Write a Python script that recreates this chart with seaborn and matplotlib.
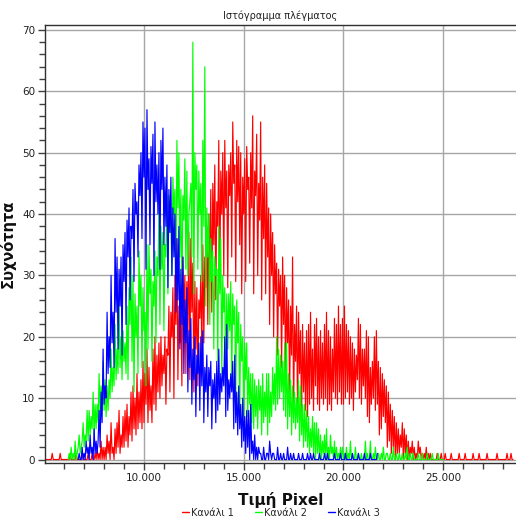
import numpy as np
import pandas as pd
import matplotlib
matplotlib.use("Agg")
import matplotlib.pyplot as plt
from matplotlib.ticker import MultipleLocator, FuncFormatter
import seaborn as sns

# ---------------- data ----------------
bin_step = 50
channel_names = ["Κανάλι 1", "Κανάλι 2", "Κανάλι 3"]
channel_colors = ["#ff0000", "#00ff00", "#0000ff"]

red_start = 5000
red_counts = [
    0, 0, 0, 0, 0, 0, 0, 0, 1, 0, 0, 0, 0, 0, 0, 0, 1, 0, 0, 0,
    0, 0, 0, 0, 0, 0, 1, 0, 0, 0, 0, 0, 1, 0, 0, 0, 0, 0, 1, 0,
    0, 0, 0, 0, 1, 0, 0, 0, 1, 0, 0, 1, 0, 2, 0, 1, 0, 3, 0, 2,
    0, 2, 0, 4, 1, 3, 0, 6, 1, 2, 0, 5, 1, 6, 2, 8, 1, 4, 2, 7,
    2, 8, 3, 9, 2, 7, 4, 11, 3, 12, 5, 10, 4, 14, 5, 11, 6, 13, 5, 16,
    6, 14, 9, 18, 6, 15, 8, 12, 6, 18, 9, 20, 8, 17, 11, 19, 10, 20, 12, 17,
    14, 20, 9, 18, 17, 25, 11, 24, 20, 28, 10, 30, 22, 36, 13, 25, 19, 24, 12, 33,
    24, 30, 14, 29, 21, 37, 13, 36, 24, 32, 11, 29, 18, 28, 12, 26, 23, 30, 17, 35,
    19, 33, 28, 38, 22, 40, 31, 44, 24, 45, 35, 48, 26, 42, 38, 52, 29, 47, 40, 50,
    30, 52, 41, 47, 28, 48, 43, 50, 33, 55, 45, 48, 29, 52, 42, 51, 35, 50, 27, 46,
    40, 49, 29, 51, 44, 46, 32, 50, 41, 56, 27, 47, 43, 53, 30, 45, 39, 55, 26, 46,
    36, 48, 27, 45, 33, 41, 22, 40, 30, 37, 20, 35, 27, 32, 17, 31, 25, 30, 15, 33,
    22, 30, 13, 28, 19, 26, 10, 25, 17, 33, 8, 22, 16, 25, 7, 24, 14, 21, 6, 22,
    11, 19, 8, 21, 7, 22, 9, 24, 10, 18, 8, 22, 12, 23, 9, 20, 8, 21, 10, 19,
    9, 22, 10, 24, 8, 21, 9, 20, 8, 18, 11, 23, 10, 22, 9, 25, 11, 22, 9, 23,
    9, 25, 10, 22, 11, 21, 9, 20, 10, 19, 8, 18, 11, 17, 13, 23, 10, 22, 9, 18,
    12, 18, 10, 21, 7, 20, 6, 15, 9, 16, 10, 20, 8, 21, 9, 16, 4, 15, 5, 14,
    7, 13, 6, 12, 2, 11, 3, 9, 1, 8, 2, 7, 0, 6, 1, 5, 1, 4, 2, 6,
    0, 5, 1, 4, 0, 3, 0, 2, 1, 3, 0, 2, 0, 1, 0, 3, 1, 2, 0, 1,
    0, 1, 0, 2, 0, 1, 0, 1, 0, 0, 0, 0, 0, 0, 1, 0, 0, 0, 1, 0,
    0, 0, 1, 0, 0, 0, 0, 0, 1, 0, 0, 0, 0, 0, 0, 0, 1, 0, 0, 0,
    0, 0, 1, 0, 0, 0, 0, 0, 0, 0, 1, 0, 0, 0, 0, 0, 1, 0, 0, 0,
    0, 0, 0, 0, 1, 0, 0, 0, 0, 0, 0, 0, 0, 0, 1, 0, 0, 0, 0, 0,
    0, 0, 0, 0, 1, 0, 0, 0, 1, 0, 0,
]

green_start = 6200
green_counts = [
    0, 1, 0, 2, 0, 1, 0, 3, 0, 1, 2, 4, 1, 2, 3, 6, 2, 4, 3, 8,
    3, 8, 4, 7, 5, 11, 4, 9, 5, 9, 6, 14, 7, 12, 9, 16, 8, 13, 7, 12,
    8, 13, 10, 18, 11, 15, 12, 22, 13, 18, 14, 26, 15, 20, 13, 21, 16, 19, 14, 25,
    13, 28, 22, 33, 16, 30, 11, 27, 20, 25, 14, 34, 25, 30, 15, 28, 21, 24, 12, 35,
    18, 35, 27, 31, 16, 29, 25, 34, 19, 33, 30, 41, 22, 38, 31, 37, 21, 35, 33, 43,
    27, 43, 37, 39, 30, 46, 40, 44, 28, 52, 41, 50, 33, 44, 26, 43, 39, 49, 31, 47,
    30, 40, 42, 45, 33, 68, 27, 50, 44, 48, 31, 47, 40, 45, 29, 52, 38, 64, 25, 41,
    33, 40, 22, 36, 29, 34, 18, 33, 30, 31, 16, 38, 27, 36, 14, 30, 24, 28, 13, 27,
    18, 27, 21, 29, 13, 27, 22, 25, 10, 26, 19, 24, 8, 22, 16, 20, 7, 19, 13, 19,
    7, 15, 9, 14, 6, 14, 5, 13, 7, 12, 5, 13, 8, 12, 4, 14, 6, 11, 7, 14,
    4, 14, 6, 11, 7, 15, 9, 14, 8, 20, 9, 18, 10, 17, 11, 16, 8, 19, 7, 19,
    5, 14, 7, 13, 4, 12, 6, 11, 5, 10, 6, 13, 3, 12, 4, 9, 2, 9, 3, 8,
    2, 7, 1, 5, 2, 7, 1, 6, 0, 6, 1, 5, 0, 4, 0, 3, 1, 4, 0, 5,
    0, 2, 0, 4, 1, 2, 0, 3, 0, 2, 0, 1, 0, 2, 0, 2, 0, 1, 0, 2,
    0, 1, 0, 3, 0, 1, 0, 0, 2, 0, 0, 1, 0, 0, 1, 0, 0, 0, 3, 0,
    1, 0, 0, 3, 0, 0, 1, 0, 2, 0, 0, 1, 0, 0, 1, 0, 2, 0, 0, 1,
    1, 0, 0, 1, 0, 0, 2, 0, 0, 1, 0, 0, 1, 0, 0, 1, 0, 0, 1, 0,
    2, 0, 0, 1, 0, 0, 1, 0, 0, 0, 0, 1, 0, 0, 0, 1, 0, 0, 0, 0,
    1, 0, 0, 0, 0, 1, 0, 0, 0, 0, 0, 1, 0, 0, 0, 0, 0,
]

blue_start = 6700
blue_counts = [
    0, 1, 0, 0, 2, 0, 1, 0, 3, 1, 2, 0, 4, 1, 2, 0, 5, 1, 3, 1,
    3, 8, 2, 11, 6, 18, 9, 12, 10, 24, 14, 20, 15, 30, 19, 24, 15, 36, 24, 33,
    18, 31, 25, 33, 17, 35, 29, 37, 22, 39, 33, 41, 26, 38, 36, 44, 29, 45, 40, 42,
    33, 48, 43, 50, 36, 55, 46, 54, 31, 57, 44, 49, 35, 51, 45, 53, 30, 55, 42, 48,
    40, 50, 31, 52, 44, 54, 35, 46, 38, 48, 28, 44, 37, 46, 30, 41, 33, 40, 24, 36,
    26, 38, 18, 31, 22, 33, 14, 26, 19, 28, 11, 21, 15, 23, 9, 18, 13, 20, 7, 17,
    14, 19, 8, 20, 12, 21, 6, 15, 11, 17, 7, 15, 12, 16, 5, 13, 10, 14, 6, 16,
    8, 18, 9, 14, 11, 15, 12, 20, 7, 22, 8, 13, 10, 14, 11, 16, 5, 17, 6, 11,
    4, 12, 5, 9, 2, 10, 3, 7, 1, 8, 2, 8, 0, 9, 1, 3, 0, 4, 0, 2,
    0, 2, 1, 1, 0, 0, 2, 0, 0, 1, 1, 0, 3, 1, 0, 1, 1, 0, 0, 0,
    2, 0, 0, 1, 0, 0, 1, 0, 0, 0, 2, 0, 0, 1, 0, 0, 1, 0, 0, 0,
    0, 1, 0, 0, 0, 1, 0, 0, 0, 0, 1, 0, 0, 1, 0, 0, 1, 0, 0, 0,
    0, 0, 1, 0, 0, 0, 0, 1, 0, 0, 1, 0, 0, 0, 0, 0, 0, 1, 0, 0,
    0, 0, 0, 1, 0, 0, 0, 0, 1, 0, 0, 0, 0, 0, 0, 1, 0, 0, 0, 0,
    0, 1, 0, 0, 0, 0, 0, 1, 0, 0, 0, 0, 0, 1, 0, 0, 0, 0, 0, 0,
    1,
]

title_text = "Ιστόγραμμα πλέγματος"
x_label = "Τιμή Pixel"
y_label = "Συχνότητα"

# ---------------- build long-form table ----------------
frames = []
for name, start, counts in zip(channel_names,
                               [red_start, green_start, blue_start],
                               [red_counts, green_counts, blue_counts]):
    xs = start + bin_step * np.arange(len(counts))
    frames.append(pd.DataFrame({"value": xs, "count": counts, "channel": name}))
df = pd.concat(frames, ignore_index=True)

# ---------------- figure ----------------
sns.set_theme(style="white")
plt.rcParams['font.family'] = ['DejaVu Sans']

W, H = 516, 517
fig = plt.figure(figsize=(W / 100, H / 100), dpi=100)
ax_l, ax_r, ax_t, ax_b = 45, 517, 25, 463
ax = fig.add_axes([ax_l / W, 1 - ax_b / H, (ax_r - ax_l) / W, (ax_b - ax_t) / H])

sns.lineplot(data=df, x="value", y="count", hue="channel",
             hue_order=channel_names, palette=channel_colors,
             estimator=None, sort=False, linewidth=0.85, ax=ax, legend=False)

ax.set_xlim(5038, 28700)
ax.set_ylim(-0.57, 70.8)
ax.xaxis.set_major_locator(MultipleLocator(5000))
ax.xaxis.set_minor_locator(MultipleLocator(1000))
ax.yaxis.set_major_locator(MultipleLocator(10))
ax.yaxis.set_minor_locator(MultipleLocator(2))
ax.xaxis.set_major_formatter(FuncFormatter(lambda v, _: f"{int(round(v)):,}".replace(",", ".")))

ax.set_axisbelow(True)
ax.grid(which="major", color="#a6a6a6", linewidth=1.0)
ax.tick_params(which="major", direction="out", length=5, width=1, color="#404040",
               labelsize=7.5, labelcolor="#202020", pad=2)
ax.tick_params(which="minor", direction="out", length=4, width=1, color="#404040")
ax.tick_params(axis="x", which="both", bottom=True)
ax.tick_params(axis="y", which="both", left=True)

for side in ["top", "left", "bottom"]:
    ax.spines[side].set_color("#303030")
    ax.spines[side].set_linewidth(1.0)
ax.spines["right"].set_visible(False)

ax.set_xlabel(x_label, fontsize=11, fontweight="bold", color="#101010")
ax.set_ylabel(y_label, fontsize=10.5, fontweight="bold", color="#101010")
ax.xaxis.set_label_coords(0.5, -(492 - ax_b) / (ax_b - ax_t), transform=ax.transAxes)
ax.yaxis.set_label_coords(-(ax_l - 16) / (ax_r - ax_l), 0.5, transform=ax.transAxes)

fig.text(280 / W, 1 - 16 / H, title_text, fontsize=7, ha="center", va="center",
         color="#202020")

handles = [plt.Line2D([], [], color=c, lw=1) for c in channel_colors]
fig.legend(handles, channel_names, loc="center", bbox_to_anchor=(281 / W, 1 - 512.5 / H),
           ncol=3, frameon=False, fontsize=7, handlelength=0.7, handletextpad=0.2,
           columnspacing=2.2, borderpad=0)

fig.savefig("out.png", dpi=100)
